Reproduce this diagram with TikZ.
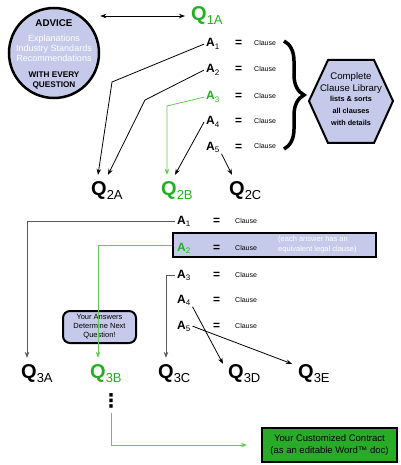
\documentclass[tikz,border=0pt]{standalone}
\usepackage{fontspec}
\setmainfont{Liberation Sans}
\newfontfamily\dotsfont{DejaVu Sans}
\usepackage{tikz}
\usetikzlibrary{shapes, arrows, arrows.meta, positioning, calc, decorations.pathreplacing}

\definecolor{lav}{RGB}{197,202,234}
\definecolor{qgreen}{RGB}{34,176,34}
\definecolor{lgreen}{RGB}{96,204,80}
\definecolor{boxgreen}{RGB}{40,172,40}
\definecolor{dgray}{RGB}{90,90,90}

\newcommand{\Qsub}[1]{{\fontsize{20}{20}\selectfont\bfseries Q}\raisebox{-4pt}{\fontsize{13}{13}\selectfont #1}}
\newcommand{\Asub}[1]{{\fontsize{12}{12}\selectfont\bfseries A}\raisebox{-2.5pt}{\fontsize{8}{8}\selectfont #1}}

\begin{document}
\begin{tikzpicture}[x=1pt, y=-1pt, >={Stealth[length=6pt, width=4.5pt]},
    qlab/.style={anchor=base west, inner xsep=0pt, inner ysep=6pt},
    alab/.style={anchor=base west, inner xsep=2pt, inner ysep=1pt},
    eqlab/.style={anchor=base west, inner sep=0pt, font=\fontsize{12}{12}\selectfont\bfseries},
    clause/.style={anchor=base west, inner sep=0pt, font=\fontsize{7}{7}\selectfont},
    conn/.style={->, line width=0.8pt}]
    \useasboundingbox (0,0) rectangle (400,465);
    % Advice circle
    \node[circle, draw, line width=2.5pt, fill=lav, minimum size=90pt] (advice) at (54,53) {};
    \node[align=center, inner sep=0pt, font=\fontsize{9}{10}\selectfont] (advicetxt) at (54,54)
        {{\fontsize{9.8}{10}\selectfont\bfseries ADVICE}\\[5.5pt]
         \textcolor{white}{Explanations}\\
         \textcolor{white}{Industry Standards}\\
         \textcolor{white}{Recommendations}\\[5.5pt]
         {\fontsize{8.2}{10}\selectfont\bfseries WITH EVERY}\\
         {\fontsize{8.2}{10}\selectfont\bfseries QUESTION}};
    % First question and its answers
    \node[qlab, text=qgreen] (q1a) at (191,21) {\Qsub{1A}};
    \node[alab] (a1) at (204,47) {\Asub{1}};
    \node[alab] (a2) at (204,73) {\Asub{2}};
    \node[alab, text=qgreen] (a3) at (204,100) {\Asub{3}};
    \node[alab] (a4) at (204,125) {\Asub{4}};
    \node[alab] (a5) at (204,150) {\Asub{5}};
    \node[eqlab] (e1) at (235,47) {=};
    \node[eqlab] (e2) at (235,73) {=};
    \node[eqlab] (e3) at (235,100) {=};
    \node[eqlab] (e4) at (235,125) {=};
    \node[eqlab] (e5) at (235,150) {=};
    \node[clause] (c1) at (254,46) {Clause};
    \node[clause] (c2) at (254,72) {Clause};
    \node[clause] (c3) at (254,99) {Clause};
    \node[clause] (c4) at (254,124) {Clause};
    \node[clause] (c5) at (254,149) {Clause};
    % Brace and clause library
    \draw[decorate, decoration={brace, amplitude=20pt}, line width=3.5pt] (284,41) -- (284,149);
    \draw[line width=2pt, fill=lav] (309,101) -- (328,60) -- (374,60) -- (393,101) -- (374,143) -- (328,143) -- cycle;
    \node[align=center, inner sep=0pt] (library) at (351,99)
        {{\fontsize{9.6}{12.5}\selectfont Complete}\\
         {\fontsize{9.6}{12.5}\selectfont Clause Library}\\[-1.5pt]
         {\fontsize{7.3}{10}\selectfont\bfseries lists \& sorts}\\
         {\fontsize{7.3}{10}\selectfont\bfseries all clauses}\\
         {\fontsize{7.3}{10}\selectfont\bfseries with details}};
    % Second questions
    \node[qlab] (q2a) at (91,195) {\Qsub{2A}};
    \node[qlab, text=qgreen] (q2b) at (161,195) {\Qsub{2B}};
    \node[qlab] (q2c) at (229,195) {\Qsub{2C}};
    \draw[<->, line width=0.8pt, shorten >=6pt] (advice.east |- q1a.west) -- (q1a.west);
    \draw[conn] (a1.west) -- (112,82) -- ([xshift=7pt]q2a.north west);
    \draw[conn] (a2.west) -- (145,100) -- ([xshift=17pt]q2a.north west);
    \draw[conn, lgreen] (a3.west) -- ([xshift=6pt]q2b.north west |- 0,106) -- ([xshift=6pt]q2b.north west);
    \draw[conn] (a4.west) -- ([xshift=14pt]q2b.north west);
    \draw[conn] (a5.south east) -- ([xshift=3pt]q2c.north west);
    % Answers of Q2B
    \node[draw, line width=2pt, fill=lav, minimum width=203pt, minimum height=24pt] (hl) at (274.5,245) {};
    \node[anchor=north west, align=left, inner sep=0pt, text=white, font=\fontsize{7.5}{10}\selectfont] (hlnote) at (278,236)
        {(each answer has an\\equivalent legal clause)};
    \node[alab] (b1) at (175,224) {\Asub{1}};
    \node[alab, text=qgreen] (b2) at (175,251) {\Asub{2}};
    \node[alab] (b3) at (175,278) {\Asub{3}};
    \node[alab] (b4) at (175,303) {\Asub{4}};
    \node[alab] (b5) at (175,329) {\Asub{5}};
    \node[eqlab] (f1) at (213,224) {=};
    \node[eqlab] (f2) at (213,251) {=};
    \node[eqlab] (f3) at (213,278) {=};
    \node[eqlab] (f4) at (213,303) {=};
    \node[eqlab] (f5) at (213,329) {=};
    \node[clause] (d1) at (235,223) {Clause};
    \node[clause] (d2) at (235,250) {Clause};
    \node[clause] (d3) at (235,277) {Clause};
    \node[clause] (d4) at (235,302) {Clause};
    \node[clause] (d5) at (235,328) {Clause};
    % Third questions
    \node[qlab] (q3a) at (21,378) {\Qsub{3A}};
    \node[qlab, text=qgreen] (q3b) at (90,378) {\Qsub{3B}};
    \node[qlab] (q3c) at (158,378) {\Qsub{3C}};
    \node[qlab] (q3d) at (228,378) {\Qsub{3D}};
    \node[qlab] (q3e) at (298,378) {\Qsub{3E}};
    \node[draw, line width=2pt, fill=lav, rounded corners=7pt, minimum width=73pt, minimum height=32pt,
        align=center, inner sep=0pt, font=\fontsize{7.5}{9}\selectfont] (note) at (99.5,327)
        {Your Answers\\Determine Next\\Question!};
    \draw[conn, dgray] (b1.west) -| ([xshift=6pt]q3a.north west);
    \draw[conn, lgreen] (hl.west) -| ([xshift=8pt]q3b.north west);
    \draw[conn, dgray] (b3.west) -| ([xshift=8pt]q3c.north west);
    \draw[conn] (b4.south east) -- ([shift={(-5pt,-6pt)}]q3d.north west);
    \draw[conn] (b5.east) -- ([shift={(-6pt,-6pt)}]q3e.north west);
    % Final contract
    \node[inner sep=0pt, font=\dotsfont\bfseries\fontsize{19}{19}\selectfont] (dots) at (111,401) {⋮};
    \node[draw, line width=2pt, fill=boxgreen, minimum width=135pt, minimum height=34pt,
        align=center, inner sep=0pt, font=\fontsize{9.5}{12}\selectfont] (contract) at (329.5,445)
        {Your Customized Contract\\(as an editable Word™ doc)};
    \draw[conn, lgreen, shorten <=4pt, shorten >=14pt] (dots.south) |- (contract.west);
\end{tikzpicture}
\end{document}
